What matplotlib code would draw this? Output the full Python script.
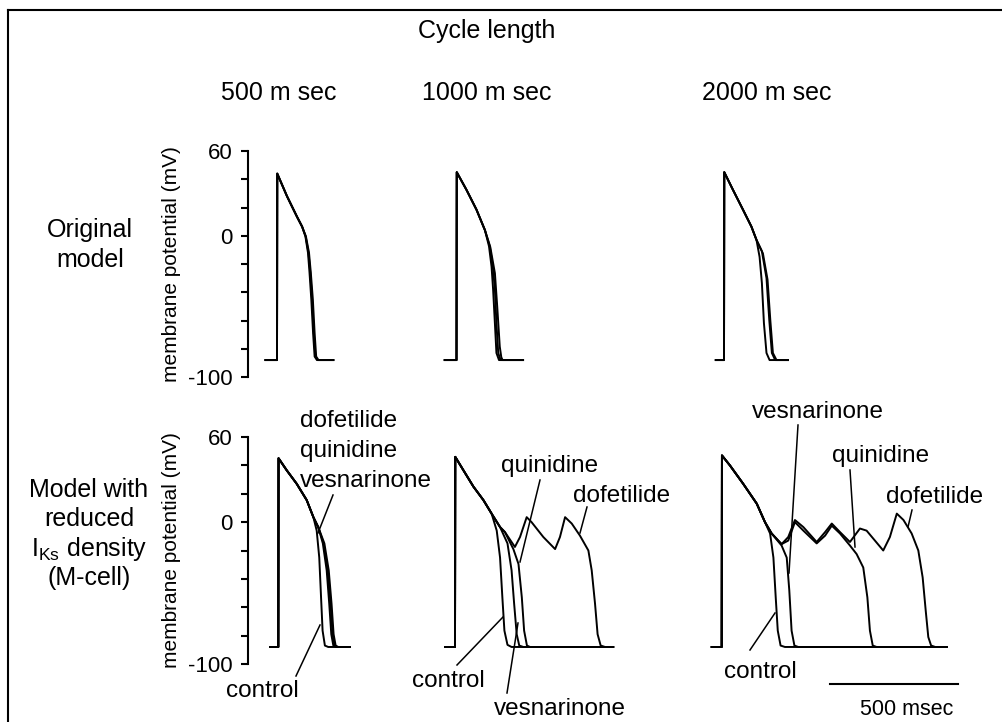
import matplotlib
matplotlib.use("Agg")
import matplotlib.pyplot as plt

plt.rcParams['font.family'] = ['Liberation Sans', 'DejaVu Sans']
plt.rcParams['mathtext.fontset'] = 'custom'
plt.rcParams['mathtext.rm'] = 'Liberation Sans'
plt.rcParams['mathtext.it'] = 'Liberation Sans'

# ---------- data: time (ms from upstroke) / membrane potential (mV) ----------
cycle_lengths = ["500 m sec", "1000 m sec", "2000 m sec"]
row_labels = [["Original", "model"],
              ["Model with", "reduced", r"I$_{\rm Ks}$ density", "(M-cell)"]]
y_ticks = [-100, -80, -60, -40, -20, 0, 20, 40, 60]
y_ticklabels = ["-100", "", "", "", "", "0", "", "", "60"]

# original model, 500 ms
orig500_t1 = [-45, 0, 1, 39, 78, 98, 111, 121, 127, 134, 141, 147, 156, 220]
orig500_t2 = [-45, 0, 1, 39, 78, 98, 112, 123, 130, 137, 144, 150, 159, 220]
orig500_t3 = [-45, 0, 1, 39, 78, 98, 113, 125, 132, 140, 147, 153, 162, 220]
orig500_v = [-88, -88, 44, 28, 13.5, 6.5, -0.5, -12, -26, -45, -69, -85.5, -88, -88]

# original model, 1000 ms
orig1000_t1 = [-46, 0, 1, 39, 78, 111, 127, 137, 143, 150, 156, 166, 260]
orig1000_v1 = [-88, -88, 45, 32.5, 18.5, 4, -7.5, -22, -38, -62, -83, -88, -88]
orig1000_t2 = [-46, 0, 1, 39, 78, 111, 130, 142, 150, 156, 163, 172, 260]
orig1000_v2 = [-88, -88, 45, 32.5, 18.5, 4, -7.5, -22, -38, -62, -83, -88, -88]
orig1000_t3 = [-46, 0, 1, 39, 78, 111, 132, 150, 159, 169, 175, 180, 260]
orig1000_v3 = [-88, -88, 45, 32.5, 18.5, 4, -8, -26.5, -50, -78.5, -86, -88, -88]

# original model, 2000 ms
orig2000_t1 = [-32, 0, 1, 35, 74, 107, 127, 139, 148, 156, 166, 178, 250]
orig2000_v1 = [-88, -88, 45, 32.5, 18.5, 6.5, -3, -15, -33.5, -62, -83, -88, -88]
orig2000_t2 = [-32, 0, 1, 35, 74, 107, 127, 148, 166, 177, 187, 200, 250]
orig2000_v2 = [-88, -88, 45, 32.5, 18.5, 6.5, -3, -11, -30, -60, -83, -88, -88]
orig2000_t3 = [-32, 0, 1, 35, 74, 107, 127, 152, 170, 181, 191, 205, 250]
orig2000_v3 = [-88, -88, 45, 32.5, 18.5, 6.5, -3, -12.5, -31, -60, -83, -88, -88]

# reduced IKs, 500 ms
m500_ctrl_t = [-32, 0, 1, 33, 72, 111, 137, 150, 160, 167, 173, 182, 195, 280]
m500_ctrl_v = [-88, -88, 45, 36.5, 27, 15.5, 3.5, -6, -25, -53, -76.5, -87, -88, -88]
m500_dof_t = [-32, 0, 1, 33, 72, 111, 137, 156, 177, 193, 204, 212, 220, 230, 280]
m500_qui_t = [-32, 0, 1, 33, 72, 111, 137, 156, 174, 189, 199, 207, 215, 225, 280]
m500_ves_t = [-32, 0, 1, 33, 72, 111, 137, 156, 180, 197, 208, 216, 224, 234, 280]
m500_drug_v = [-88, -88, 45, 36.5, 27, 15.5, 3.5, -3.5, -15, -34, -57.5, -79, -87, -88, -88]

# reduced IKs, 1000 ms
m1000_ctrl_t = [-39, 0, 1, 33, 72, 111, 143, 163, 176, 185, 193, 205, 221, 618]
m1000_ctrl_v = [-88, -88, 46, 36.5, 25, 15.5, 6, -6, -25, -53, -76.5, -86.5, -88, -88]
m1000_ves_t = [-39, 0, 1, 33, 72, 111, 143, 176, 205, 221, 231, 241, 251, 267, 618]
m1000_ves_v = [-88, -88, 46, 36.5, 25, 15.5, 6, -3.5, -15, -34, -57.5, -79, -87, -88, -88]
m1000_qui_t = [-39, 0, 1, 33, 72, 111, 143, 176, 195, 228, 248, 261, 270, 281, 293, 618]
m1000_qui_v = [-88, -88, 46, 36.5, 25, 15.5, 6, -3.5, -7, -19, -29.5, -53, -76.5, -87, -88, -88]
m1000_dof_t = [-39, 0, 1, 33, 72, 111, 143, 176, 195, 234, 254, 280, 299, 345, 391, 410,
               430, 456, 488, 521, 534, 547, 557, 569, 586, 618]
m1000_dof_v = [-88, -88, 46, 36.5, 25, 15.5, 6, -3.5, -7, -17.5, -10.5, 3.5, 0, -10.5, -19, -10.5,
               3.5, -1, -9.5, -20, -34, -57.5, -79, -87, -88, -88]

# reduced IKs, 2000 ms
m2000_ctrl_t = [-39, 0, 1, 32, 84, 137, 169, 189, 202, 211, 219, 230, 247, 879]
m2000_ctrl_v = [-88, -88, 47, 40, 27, 13, 0, -8, -25, -53, -76.5, -87, -88, -88]
m2000_ves_t = [-39, 0, 1, 32, 84, 137, 169, 195, 234, 254, 264, 273, 284, 299, 879]
m2000_ves_v = [-88, -88, 47, 40, 27, 13, 0, -8, -16.5, -25, -48, -76.5, -87, -88, -88]
m2000_qui_t = [-39, 0, 1, 32, 84, 137, 169, 195, 234, 260, 286, 319, 371, 404, 430, 462,
               501, 527, 553, 569, 579, 590, 605, 879]
m2000_qui_v = [-88, -88, 47, 40, 27, 13, 0, -8, -15.5, -13, 0, -6, -15, -9.5, -2.5, -8,
               -16.5, -22.5, -32, -53, -76.5, -87, -88, -88]
m2000_dof_t = [-39, 0, 1, 32, 84, 137, 169, 195, 234, 260, 286, 319, 371, 404, 430, 462,
               501, 540, 566, 631, 657, 684, 710, 742, 768, 785, 797, 807, 818, 834, 879]
m2000_dof_v = [-88, -88, 47, 40, 27, 13, 0, -8, -15.5, -10.5, 1.5, -3.5, -14, -7, -1, -7,
               -14, -4.5, -6, -20, -10.5, 6, 1.5, -8, -20, -39, -62.5, -81, -87, -88, -88]

scale_bar_ms = 500

panels = [
    [[(orig500_t1, orig500_v), (orig500_t2, orig500_v), (orig500_t3, orig500_v)],
     [(orig1000_t1, orig1000_v1), (orig1000_t2, orig1000_v2), (orig1000_t3, orig1000_v3)],
     [(orig2000_t1, orig2000_v1), (orig2000_t2, orig2000_v2), (orig2000_t3, orig2000_v3)]],
    [[(m500_ctrl_t, m500_ctrl_v), (m500_dof_t, m500_drug_v), (m500_qui_t, m500_drug_v),
      (m500_ves_t, m500_drug_v)],
     [(m1000_ctrl_t, m1000_ctrl_v), (m1000_ves_t, m1000_ves_v), (m1000_qui_t, m1000_qui_v),
      (m1000_dof_t, m1000_dof_v)],
     [(m2000_ctrl_t, m2000_ctrl_v), (m2000_ves_t, m2000_ves_v), (m2000_qui_t, m2000_qui_v),
      (m2000_dof_t, m2000_dof_v)]],
]

# ---------- layout (pixels) ----------
W, H = 1002, 722
PX_PER_MS = 128 / 500
col_left = [248, 430, 700]
col_width = [230, 230, 300]
upstroke_px = [[277, 456.5, 724], [278.3, 455, 721.7]]
row_top = [151, 437]
row_height = [226, 227]

fig = plt.figure(figsize=(W / 100, H / 100), dpi=100)

overlay = fig.add_axes([0, 0, 1, 1])
overlay.set_xlim(0, W)
overlay.set_ylim(H, 0)
overlay.axis('off')

# frame (only left and top edges visible)
overlay.plot([8.5, 8.5], [10, H], color='black', lw=1.5)
overlay.plot([8.5, W], [10, 10], color='black', lw=1.5)

FS = 18
overlay.text(487, 38, "Cycle length", fontsize=FS, ha='center', va='baseline')
for x, lab in zip([279, 487, 767], cycle_lengths):
    overlay.text(x, 100, lab, fontsize=FS, ha='center', va='baseline')

for i, line in enumerate(row_labels[0]):
    overlay.text(90, 237 + 30 * i, line, fontsize=FS, ha='center', va='baseline')
for i, line in enumerate(row_labels[1]):
    overlay.text(89, 497 + 29.5 * i, line, fontsize=FS, ha='center', va='baseline')

for r in range(2):
    for c in range(3):
        x0, w = col_left[c], col_width[c]
        y0, h = row_top[r], row_height[r]
        ax = fig.add_axes([x0 / W, 1 - (y0 + h) / H, w / W, h / H])
        up = upstroke_px[r][c]
        ax.set_xlim((x0 - up) / PX_PER_MS, (x0 + w - up) / PX_PER_MS)
        ax.set_ylim(-100, 60)
        ax.patch.set_alpha(0)
        for t, v in panels[r][c]:
            ax.plot(t, v, color='black', lw=1.4, solid_joinstyle='round')
        for s in ['top', 'right', 'bottom']:
            ax.spines[s].set_visible(False)
        ax.set_xticks([])
        if c == 0:
            ax.spines['left'].set_linewidth(1.5)
            ax.set_yticks(y_ticks)
            ax.set_yticklabels(y_ticklabels)
            ax.tick_params(axis='y', length=5, width=1.5, labelsize=16, pad=6)
            ax.set_ylabel("membrane potential (mV)", fontsize=15)
            ax.yaxis.set_label_coords((181 - x0) / w, 0.5)
        else:
            ax.spines['left'].set_visible(False)
            ax.set_yticks([])
        if r == 1 and c == 2:
            bar_start = (830 - up) / PX_PER_MS
            ax.plot([bar_start, bar_start + scale_bar_ms], [-114, -114],
                    color='black', lw=1.5, clip_on=False)
            ax.text(bar_start + scale_bar_ms / 2 + 13 / PX_PER_MS, -136, "500 msec",
                    fontsize=15.5, ha='center', va='baseline')

# ---------- drug labels and leader lines ----------
labels = [
    ("dofetilide", 300, 427, 'left'), ("quinidine", 300, 457, 'left'),
    ("vesnarinone", 300, 487, 'left'), ("control", 262, 697, 'center'),
    ("quinidine", 550, 472, 'center'), ("dofetilide", 622, 502, 'center'),
    ("vesnarinone", 560, 715, 'center'), ("control", 448, 687, 'center'),
    ("vesnarinone", 818, 418, 'center'), ("quinidine", 881, 462, 'center'),
    ("dofetilide", 935, 503, 'center'), ("control", 760, 678, 'center'),
]
leaders = [
    ((333, 495), (318, 533)), ((296, 676), (320, 625)),
    ((540, 480), (520, 562)), ((587, 507), (580, 533)),
    ((507, 693), (518, 623)), ((457, 665), (503, 617)),
    ((798, 425), (789, 573)), ((850, 470), (855, 547)),
    ((912, 510), (908, 527)), ((750, 650), (775, 613)),
]
for txt, x, y, ha in labels:
    overlay.text(x, y, txt, fontsize=17.5, ha=ha, va='baseline')
for (xa, ya), (xb, yb) in leaders:
    overlay.plot([xa, xb], [ya, yb], color='black', lw=1.1)

fig.savefig("out.png", dpi=100)
